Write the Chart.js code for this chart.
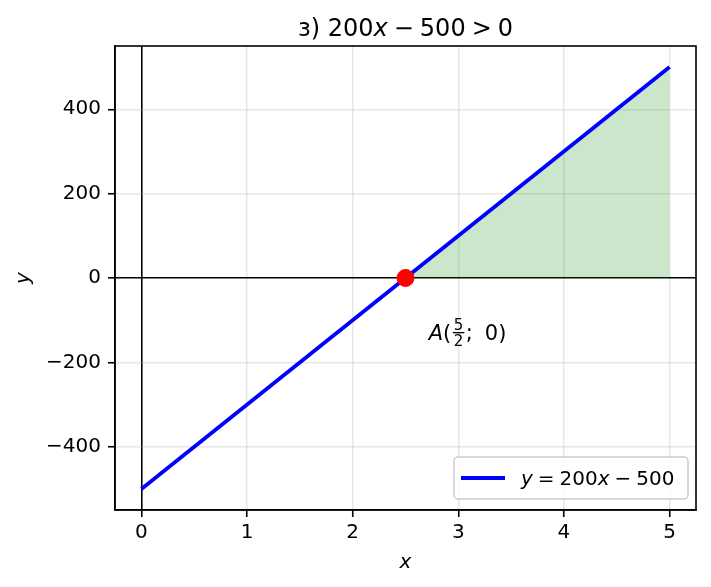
<!DOCTYPE html>
<html>
<head>
<meta charset="utf-8">
<script src="https://cdn.jsdelivr.net/npm/chart.js@4/dist/chart.umd.min.js"></script>
<style>
  html, body { margin: 0; padding: 0; background: #fff; }
  #wrap { width: 711px; height: 587px; }
</style>
</head>
<body>
<div id="wrap"><canvas id="chart" width="711" height="587"></canvas></div>
<script>
// Data
const lineX = [0, 5];
const lineY = [-500, 500];
const shadeX = [2.5, 5];
const shadeY = [0, 500];
const pointX = [2.5];
const pointY = [0];
const xTicks = [0, 1, 2, 3, 4, 5];
const yTicks = [-400, -200, 0, 200, 400];
const xRange = [-0.25, 5.25];
const yRange = [-550, 550];
const labelPos = [2.72, -147];

const FONT = "'DejaVu Sans', sans-serif";
const SP = '\u2005';  // mathtext-like medium space

function toPoints(xs, ys) {
    return xs.map((x, i) => ({ x: x, y: ys[i] }));
}

function fmt(v) {
    return v < 0 ? '\u2212' + Math.abs(v) : String(v);
}

// draw a run of text pieces, some of them italic
function drawRich(ctx, parts, x, y, size, align) {
    let total = 0;
    parts.forEach(p => {
        ctx.font = (p.i ? 'italic ' : '') + size + 'px ' + FONT;
        p.w = ctx.measureText(p.t).width;
        total += p.w;
    });
    let cx = align === 'center' ? x - total / 2 : x;
    ctx.textBaseline = 'alphabetic';
    ctx.textAlign = 'left';
    parts.forEach(p => {
        ctx.font = (p.i ? 'italic ' : '') + size + 'px ' + FONT;
        ctx.fillText(p.t, cx, y);
        cx += p.w;
    });
    return cx;
}

const decor = {
    id: 'decor',
    afterDraw(chart) {
        const ctx = chart.ctx;
        const a = chart.chartArea;
        const xs = chart.scales.x, ys = chart.scales.y;
        ctx.save();
        ctx.fillStyle = '#000';

        // frame
        ctx.strokeStyle = '#000';
        ctx.lineWidth = 1.6;
        ctx.strokeRect(a.left, a.top, a.right - a.left, a.bottom - a.top);

        // title
        drawRich(ctx, [
            { t: '\u0437) 200' }, { t: 'x', i: true }, { t: SP + '\u2212' + SP + '500' + SP + '>' + SP + '0' }
        ], (a.left + a.right) / 2, 36, 24, 'center');

        // axis labels
        drawRich(ctx, [{ t: 'x', i: true }], (a.left + a.right) / 2, 568, 20, 'center');
        ctx.save();
        ctx.translate(29, (a.top + a.bottom) / 2);
        ctx.rotate(-Math.PI / 2);
        drawRich(ctx, [{ t: 'y', i: true }], 0, 0, 20, 'center');
        ctx.restore();

        // point annotation A(5/2; 0)
        const lx = xs.getPixelForValue(labelPos[0]);
        const ly = ys.getPixelForValue(labelPos[1]);
        let cx = drawRich(ctx, [{ t: 'A', i: true }, { t: '(' }], lx, ly, 21, 'left');
        ctx.font = '15px ' + FONT;
        ctx.textAlign = 'center';
        const fw = ctx.measureText('5').width + 5;
        ctx.fillText('5', cx + fw / 2, ly - 10);
        ctx.fillText('2', cx + fw / 2, ly + 6);
        ctx.fillRect(cx + 1.5, ly - 8, fw - 3, 1.3);
        cx += fw;
        drawRich(ctx, [{ t: '; ' + SP + '0)' }], cx, ly, 21, 'left');

        // legend
        const bx = 454, by = 457, bw = 234, bh = 42;
        ctx.fillStyle = 'rgba(255,255,255,0.8)';
        ctx.strokeStyle = '#cccccc';
        ctx.lineWidth = 1.5;
        ctx.beginPath();
        ctx.roundRect(bx, by, bw, bh, 4);
        ctx.fill();
        ctx.stroke();
        ctx.strokeStyle = '#0000ff';
        ctx.lineWidth = 3.8;
        ctx.beginPath();
        ctx.moveTo(461, 478);
        ctx.lineTo(505, 478);
        ctx.stroke();
        ctx.fillStyle = '#000';
        drawRich(ctx, [
            { t: 'y', i: true }, { t: SP + '=' + SP + '200' }, { t: 'x', i: true }, { t: SP + '\u2212' + SP + '500' }
        ], 521, 485, 20, 'left');

        ctx.restore();
    }
};

const gridColor = c => (c.tick && c.tick.value === 0) ? '#000' : 'rgba(176,176,176,0.3)';
const gridWidth = c => (c.tick && c.tick.value === 0) ? 1.6 : 1.5;

new Chart(document.getElementById('chart'), {
    type: 'line',
    data: {
        datasets: [
            {
                data: toPoints(pointX, pointY),
                showLine: false,
                pointRadius: 8.5,
                pointBackgroundColor: '#ff0000',
                pointBorderColor: '#ff0000',
                order: 0
            },
            {
                data: toPoints(lineX, lineY),
                borderColor: '#0000ff',
                borderWidth: 3.8,
                pointRadius: 0,
                fill: false,
                order: 1
            },
            {
                data: toPoints(shadeX, shadeY),
                borderColor: 'rgba(0,128,0,0.2)',
                borderWidth: 1,
                backgroundColor: 'rgba(0,128,0,0.2)',
                pointRadius: 0,
                fill: 'origin',
                order: 2
            }
        ]
    },
    options: {
        responsive: false,
        animation: false,
        layout: { padding: { top: 46, right: 15, left: 0, bottom: 0 } },
        plugins: {
            legend: { display: false },
            title: { display: false },
            tooltip: { enabled: false }
        },
        scales: {
            x: {
                type: 'linear',
                min: xRange[0],
                max: xRange[1],
                afterBuildTicks: s => { s.ticks = xTicks.map(v => ({ value: v })); },
                afterFit: s => { s.height = 77; },
                ticks: {
                    color: '#000',
                    font: { family: FONT, size: 20 },
                    padding: 4,
                    maxRotation: 0,
                    callback: v => fmt(v)
                },
                grid: {
                    color: gridColor,
                    lineWidth: gridWidth,
                    tickColor: '#000',
                    tickWidth: 1.6,
                    tickLength: 7
                },
                border: { display: true, color: '#000', width: 1.6 }
            },
            y: {
                type: 'linear',
                min: yRange[0],
                max: yRange[1],
                afterBuildTicks: s => { s.ticks = yTicks.map(v => ({ value: v })); },
                afterFit: s => { s.width = 115; },
                ticks: {
                    color: '#000',
                    font: { family: FONT, size: 20 },
                    padding: 7,
                    callback: v => fmt(v)
                },
                grid: {
                    color: gridColor,
                    lineWidth: gridWidth,
                    tickColor: '#000',
                    tickWidth: 1.6,
                    tickLength: 7
                },
                border: { display: true, color: '#000', width: 1.6 }
            }
        }
    },
    plugins: [decor]
});
</script>
</body>
</html>
